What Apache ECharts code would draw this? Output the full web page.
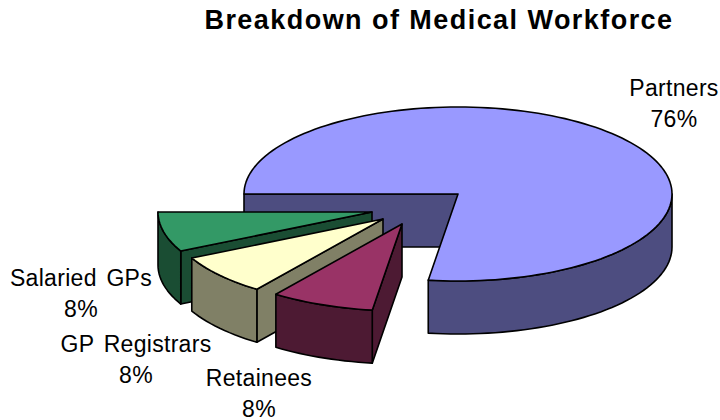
<!DOCTYPE html>
<html>
<head>
<meta charset="utf-8">
<style>
html,body{margin:0;padding:0;background:#fff}
#c{width:720px;height:420px}
svg text{letter-spacing:.3px;word-spacing:3px}
svg text[style*="bold"]{letter-spacing:1.45px;word-spacing:0}
</style>
<script src="https://cdn.jsdelivr.net/npm/echarts@6/dist/echarts.min.js"></script>
</head>
<body>
<div id="c"></div>
<script>
// Data, clockwise from 9 o'clock
var categories = ['Partners', 'Retainees', 'GP Registrars', 'Salaried GPs'];
var values = [76, 8, 8, 8];
var titleText = 'Breakdown of Medical Workforce';

// Styling and layout of the 3D pie
var topColors = ['#9999FF', '#993366', '#FFFFCC', '#339966'];
var wallColors = ['#4D4D80', '#4D1A33', '#808066', '#1A4D33'];
var explode = [[0, 0], [-56, 30], [-75, 25], [-86, 18]];
var labelAt = [[674, 103], [259, 393], [136, 359], [81, 293]];
var paintOrder = [0, 3, 2, 1];
var CX = 458, CY = 194, RX = 214, RY = 87, DEPTH = 53, START = 180;
var FONT = '"Liberation Sans", Arial, sans-serif';

var total = values.reduce(function (a, b) { return a + b; }, 0);

// Perspective: pie angles are stretched a little towards the viewer
function warp(deg) { return deg + 4.4 * Math.sin(deg * Math.PI / 180); }

function renderItem(params, api) {
  var i = params.dataIndex;
  var before = 0;
  for (var k = 0; k < i; k++) before += values[k];
  var v = api.value(0);
  var a0 = warp(START + before / total * 360);
  var a1 = warp(START + (before + v) / total * 360);
  var ax = CX + explode[i][0], ay = CY + explode[i][1];

  function pt(deg, drop) {
    var r = deg * Math.PI / 180;
    return [ax + RX * Math.cos(r), ay + RY * Math.sin(r) + drop];
  }
  function arc(from, to, drop) {
    var n = Math.max(2, Math.ceil(Math.abs(to - from) / 2)), out = [];
    for (var j = 0; j <= n; j++) out.push(pt(from + (to - from) * j / n, drop));
    return out;
  }
  var base = paintOrder[i] * 10 + 1;
  var kids = [];
  function poly(points, fill, z) {
    kids.push({
      type: 'polygon', z2: base + z,
      shape: { points: points },
      style: { fill: fill, stroke: '#000', lineWidth: 1.6, lineJoin: 'round' }
    });
  }
  function radial(deg) {
    var e = pt(deg, 0);
    poly([[ax, ay], e, [e[0], e[1] + DEPTH], [ax, ay + DEPTH]], wallColors[i], 0);
  }
  if (Math.sin((a0 - 90) * Math.PI / 180) > 0) radial(a0);
  if (Math.sin((a1 + 90) * Math.PI / 180) > 0) radial(a1);
  for (var t = 0; t < 2; t++) {
    var lo = Math.max(a0, 360 * t), hi = Math.min(a1, 360 * t + 180);
    if (hi > lo) poly(arc(lo, hi, 0).concat(arc(hi, lo, DEPTH)), wallColors[i], 1);
  }
  poly([[ax, ay]].concat(arc(a0, a1, 0)), topColors[i], 2);
  kids.push({
    type: 'text', z2: 100,
    style: {
      text: categories[i] + '\n' + Math.round(v / total * 100) + '%',
      x: labelAt[i][0], y: labelAt[i][1],
      align: 'center', verticalAlign: 'middle',
      font: '23px ' + FONT, lineHeight: 31, fill: '#000'
    }
  });
  return { type: 'group', children: kids };
}

var chart = echarts.init(document.getElementById('c'), null, { renderer: 'svg' });
chart.setOption({
  animation: false,
  backgroundColor: '#fff',
  title: {
    text: titleText, left: 434, top: 1, textAlign: 'center',
    textStyle: { fontFamily: FONT, fontWeight: 'bold', fontSize: 27, color: '#000' }
  },
  series: [{
    type: 'custom', coordinateSystem: 'none', silent: true,
    renderItem: renderItem,
    data: values.map(function (v) { return [v]; })
  }]
});
</script>
</body>
</html>
